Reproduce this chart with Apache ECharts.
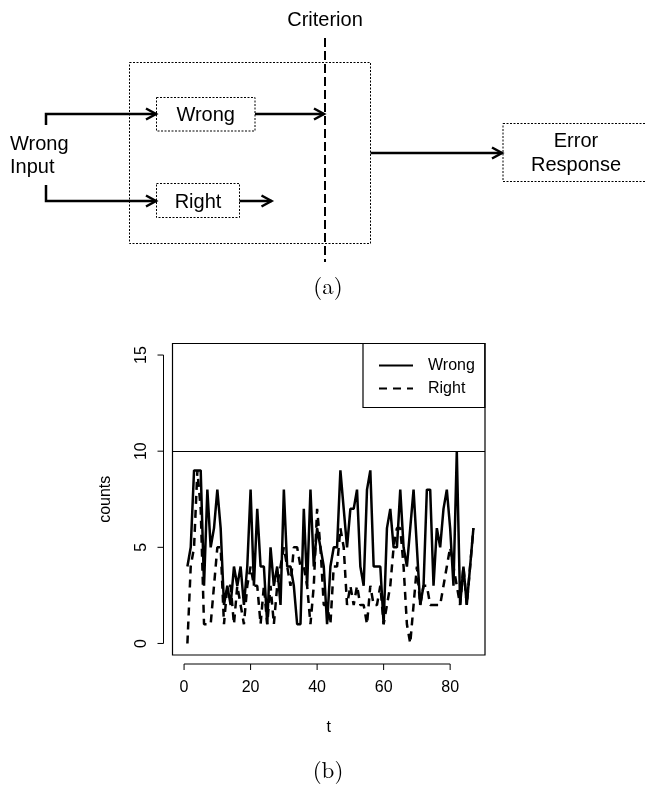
<!DOCTYPE html>
<html><head><meta charset="utf-8">
<script src="https://cdn.jsdelivr.net/npm/echarts@6/dist/echarts.min.js"></script>
<style>html,body{margin:0;padding:0;background:#fff}#c{width:645px;height:799px}</style>
</head><body><div id="c"></div>
<script>
// ---- data ----
const wrongCounts = [4,5,9,9,9,3,8,5,6,8, 6,2,3,2,4,3,4,2,4,8, 3,7,4,4,1,5,3,4,2,8,
  4,4,3,1,1,7,3,8,4,6, 5,4,1,4,5,5,9,7,5,7, 7,8,4,3,8,9,4,4,4,1,
  6,7,5,5,8,5,4,6,8,5, 2,3,8,8,3,6,5,7,8,6, 3,10,2,4,2,4,6];
const rightCounts = [0,4,5,9,7,1,1,1,3,5, 5,1,3,3,1,3,2,1,3,4, 3,3,1,3,1,3,1,3,4,5,
  4,3,5,5,4,4,3,1,3,7, 5,2,2,1,4,4,6,5,2,3, 2,3,2,2,1,3,2,2,3,1,
  2,3,5,6,6,4,1,0,2,4, 2,3,3,2,2,2,2,3,4,5, 4,3,2,4,2,4,6];
const seriesNames = ['Wrong','Right'];
const xTicks = [0,20,40,60,80];
const yTicks = [0,5,10,15];
const criterionLevel = 10;

const FONT = 'Liberation Sans, Arial, Helvetica, sans-serif';
const SERIF = 'Latin Modern Roman, DejaVu Serif, Liberation Serif, serif';

const chart = echarts.init(document.getElementById('c'), null, {renderer:'canvas'});

// ---- diagram (a) ----
function arrow(id, pts) {
  const n = pts.length, a = pts[n-2], b = pts[n-1];
  const ang = Math.atan2(b[1]-a[1], b[0]-a[0]);
  const L = 10, W = 5.5;
  const h1 = [b[0]-L*Math.cos(ang)+W*Math.sin(ang), b[1]-L*Math.sin(ang)-W*Math.cos(ang)];
  const h2 = [b[0]-L*Math.cos(ang)-W*Math.sin(ang), b[1]-L*Math.sin(ang)+W*Math.cos(ang)];
  return [
    {type:'polyline', id:id+'_l', shape:{points:pts}, style:{stroke:'#000', lineWidth:2.5, fill:null}},
    {type:'polyline', id:id+'_h', shape:{points:[h1,b,h2]}, style:{stroke:'#000', lineWidth:2.5, fill:null}}
  ];
}
function dotRect(id, x1, y1, x2, y2) {
  return {type:'rect', id:id, shape:{x:x1, y:y1, width:x2-x1, height:y2-y1},
    style:{stroke:'#000', lineWidth:1, lineDash:[2,1.5], fill:null}};
}
function txt(id, x, y, s, size, family, align) {
  return {type:'text', id:id, x:x, y:y, style:{text:s, fontSize:size, fontFamily:family||FONT,
    fill:'#000', align:align||'center', verticalAlign:'middle'}};
}
const diagram = [
  txt('crit', 325, 20, 'Criterion', 20),
  {type:'line', id:'critline', shape:{x1:325, y1:38, x2:325, y2:262},
    style:{stroke:'#000', lineWidth:2, lineDash:[9,4]}},
  dotRect('bigbox', 129.5, 62.5, 370.5, 243.5),
  dotRect('wbox', 156.5, 97.5, 255, 131),
  txt('wtxt', 205.7, 115.5, 'Wrong', 20),
  dotRect('rbox', 156.5, 183.5, 239.5, 217.5),
  txt('rtxt', 198, 202, 'Right', 20),
  dotRect('ebox', 503, 123.5, 650, 181.5),
  txt('etxt1', 576, 141.5, 'Error', 20),
  txt('etxt2', 576, 165, 'Response', 20),
  txt('wi1', 10, 144, 'Wrong', 20, FONT, 'left'),
  txt('wi2', 10, 167.5, 'Input', 20, FONT, 'left'),
  ...arrow('a1', [[46,125],[46,114],[156,114]]),
  ...arrow('a2', [[46,185],[46,201],[156,201]]),
  ...arrow('a3', [[255,114],[324,114]]),
  ...arrow('a4', [[239.5,201],[271.5,201]]),
  ...arrow('a5', [[370.5,153],[502,153]]),
  txt('lab_a', 328, 287, '(a)', 23, SERIF),
  txt('lab_b', 328, 771, '(b)', 23, SERIF)
];

const GRID = {left:172.5, right:160, top:343.5, bottom:144};
const XOFF = 9, YOFF = 9, TICK = 6;

chart.setOption({
  animation:false,
  backgroundColor:'#fff',
  grid:{left:GRID.left, right:GRID.right, top:GRID.top, bottom:GRID.bottom, show:true,
    borderColor:'#000', borderWidth:1.2, containLabel:false},
  legend:{data:seriesNames, orient:'vertical', left:363, top:GRID.top, padding:[14,10,11,15],
    itemWidth:34, itemHeight:14, itemGap:7, borderColor:'#000', borderWidth:1.2, borderRadius:0,
    itemStyle:{color:'rgba(0,0,0,0)', borderWidth:0, opacity:0},
    textStyle:{fontFamily:FONT, fontSize:16, color:'#000', padding:[0,0,0,10]}},
  xAxis:{type:'value', min:-3.48, max:90.48, offset:XOFF,
    axisLine:{show:false}, splitLine:{show:false}, axisTick:{show:false},
    axisLabel:{customValues:xTicks, margin:16, fontFamily:FONT, fontSize:16, color:'#000'},
    name:'t', nameLocation:'middle', nameGap:56, nameTextStyle:{fontFamily:FONT, fontSize:16, color:'#000'}},
  yAxis:{type:'value', min:-0.6, max:15.6, offset:YOFF,
    axisLine:{show:false}, splitLine:{show:false}, axisTick:{show:false},
    axisLabel:{customValues:yTicks, rotate:90, margin:14, fontFamily:FONT, fontSize:16, color:'#000'},
    name:'counts', nameLocation:'middle', nameGap:50, nameTextStyle:{fontFamily:FONT, fontSize:16, color:'#000'}},
  series:[
    {type:'line', name:seriesNames[0], data:wrongCounts.map((v,i)=>[i+1,v]), symbol:'none',
      lineStyle:{color:'#000', width:2.5, type:'solid'}, itemStyle:{color:'#000'},
      markLine:{silent:true, symbol:'none', label:{show:false},
        lineStyle:{color:'#000', width:1.2, type:'solid'}, data:[{yAxis:criterionLevel}]}},
    {type:'line', name:seriesNames[1], data:rightCounts.map((v,i)=>[i+1,v]), symbol:'none',
      lineStyle:{color:'#000', width:2.5, type:[8,6]}, itemStyle:{color:'#000'}}
  ],
  graphic:{elements:diagram}
});

// R-style axis lines spanning first to last tick, with outward ticks
const axY = 799 - GRID.bottom + XOFF;
const axX = GRID.left - YOFF;
const xp = xTicks.map(v => chart.convertToPixel({xAxisIndex:0}, v));
const yp = yTicks.map(v => chart.convertToPixel({yAxisIndex:0}, v));
const axisEls = [
  {type:'line', id:'xaxisline', shape:{x1:xp[0], y1:axY, x2:xp[xp.length-1], y2:axY}, style:{stroke:'#000', lineWidth:1}},
  {type:'line', id:'yaxisline', shape:{x1:axX, y1:yp[0], x2:axX, y2:yp[yp.length-1]}, style:{stroke:'#000', lineWidth:1}}
];
xp.forEach((p,i)=>axisEls.push({type:'line', id:'xt'+i, shape:{x1:p, y1:axY, x2:p, y2:axY+TICK}, style:{stroke:'#000', lineWidth:1}}));
yp.forEach((p,i)=>axisEls.push({type:'line', id:'yt'+i, shape:{x1:axX, y1:p, x2:axX-TICK, y2:p}, style:{stroke:'#000', lineWidth:1}}));
chart.setOption({graphic:{elements:axisEls}});
</script>
</body></html>
